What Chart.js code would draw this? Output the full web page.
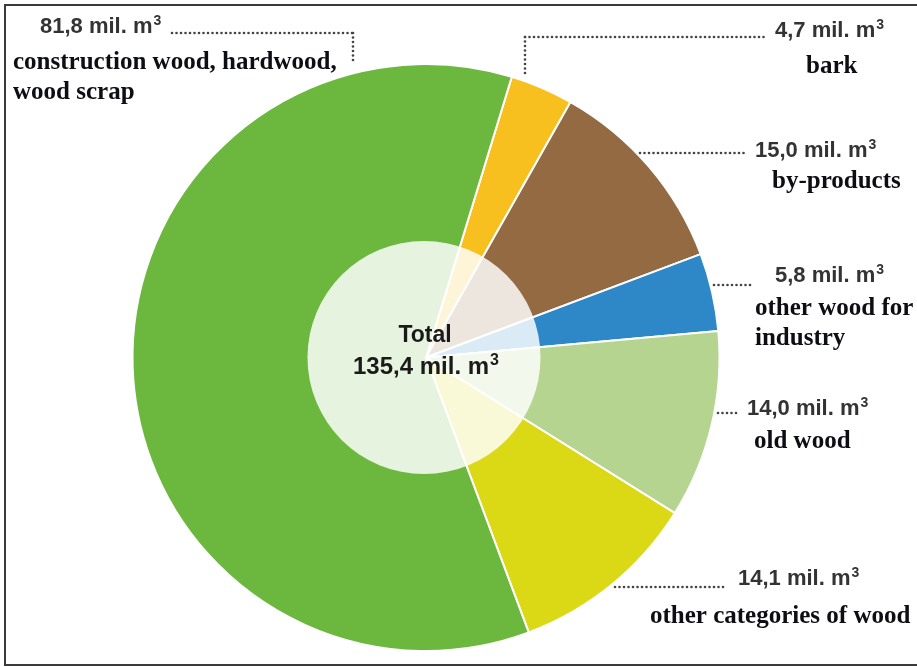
<!DOCTYPE html>
<html lang="en">
<head>
  <meta charset="UTF-8" />
  <title>Wood volumes</title>
  <script src="https://cdn.jsdelivr.net/npm/chart.js"></script>
  <style>
    body {
      margin: 0;
      background: #fff;
    }
    .wrap {
      position: relative;
      width: 917px;
      height: 667px;
      overflow: hidden;
    }
    .frame {
      position: absolute;
      left: 4px;
      top: 4px;
      width: 930px;
      height: 658px;
      border: 2px solid #3a3a3a;
      box-sizing: content-box;
      pointer-events: none;
    }
    canvas {
      position: absolute;
      left: 0;
      top: 0;
    }
  </style>
</head>
<body>
  <div class="wrap">
    <canvas id="woodChart" width="917" height="667"></canvas>
    <div class="frame"></div>
  </div>

  <script>
    // volumes in mil. m³, clockwise from the bark slice
    const categories = [
      'bark',
      'by-products',
      'other wood for industry',
      'old wood',
      'other categories of wood',
      'construction wood, hardwood, wood scrap'
    ];
    const volumes = [4.7, 15.0, 5.8, 14.0, 14.1, 81.8];
    const total = 135.4;
    const colors = ['#f7c01f', '#936a42', '#2e88c8', '#b5d48f', '#dbd815', '#6cb83f'];

    const fmt = v => v.toFixed(1).replace('.', ',') + ' mil. m';

    // where each label block sits: value line, then the name lines
    const labelLayout = [
      { x: 775, y: 37, lines: ['bark'], lx: 806, ly: [73], dots: [[525, 73, 525, 37], [525, 37, 764, 37]] },
      { x: 755, y: 157, lines: ['by-products'], lx: 772, ly: [188], dots: [[640, 153, 744, 153]] },
      { x: 775, y: 282, lines: ['other wood for', 'industry'], lx: 755, ly: [315, 345], dots: [[714, 285, 754, 285]] },
      { x: 747, y: 415, lines: ['old wood'], lx: 754, ly: [448], dots: [[718, 413, 740, 413]] },
      { x: 738, y: 585, lines: ['other categories of wood'], lx: 650, ly: [623], dots: [[615, 587, 727, 587]] },
      { x: 40, y: 33, lines: ['construction wood, hardwood,', 'wood scrap'], lx: 13, ly: [69, 99], dots: [[172, 33, 353, 33], [353, 33, 353, 64]] }
    ];

    function dotLine(ctx, x1, y1, x2, y2) {
      const len = Math.hypot(x2 - x1, y2 - y1);
      const step = 4.5;
      const n = Math.floor(len / step);
      ctx.fillStyle = '#444';
      for (let i = 0; i <= n; i++) {
        const t = n === 0 ? 0 : (i * step) / len;
        ctx.beginPath();
        ctx.arc(x1 + (x2 - x1) * t, y1 + (y2 - y1) * t, 1.3, 0, Math.PI * 2);
        ctx.fill();
      }
    }

    // "xx,x mil. m" followed by a raised 3
    function volumeText(ctx, text, x, y, size, align) {
      ctx.font = `bold ${size}px 'Liberation Sans', Arial, sans-serif`;
      const w = ctx.measureText(text).width;
      const supSize = Math.round(size * 0.65);
      ctx.font = `bold ${supSize}px 'Liberation Sans', Arial, sans-serif`;
      const sw = ctx.measureText('3').width;
      let left = align === 'center' ? x - (w + sw + 1) / 2 : x;
      ctx.textAlign = 'left';
      ctx.font = `bold ${size}px 'Liberation Sans', Arial, sans-serif`;
      ctx.fillText(text, left, y);
      ctx.font = `bold ${supSize}px 'Liberation Sans', Arial, sans-serif`;
      ctx.fillText('3', left + w + 1, y - size * 0.36);
    }

    const annotations = {
      id: 'annotations',
      afterDatasetsDraw(chart) {
        const ctx = chart.ctx;
        const arc = chart.getDatasetMeta(0).data[0];
        const cx = arc.x, cy = arc.y;
        const r = arc.outerRadius;

        // pale disc in the middle
        ctx.save();
        ctx.fillStyle = 'rgba(255,255,255,0.83)';
        ctx.beginPath();
        ctx.arc(cx - 2, cy, r * 0.397, 0, Math.PI * 2);
        ctx.fill();

        ctx.fillStyle = '#1a1a1a';
        ctx.textAlign = 'center';
        ctx.textBaseline = 'alphabetic';
        ctx.font = "bold 23px 'Liberation Sans', Arial, sans-serif";
        ctx.fillText('Total', cx - 1, cy - 16);
        volumeText(ctx, fmt(total), cx, cy + 16, 24, 'center');

        // labels with dotted leaders
        labelLayout.forEach((lab, i) => {
          lab.dots.forEach(d => dotLine(ctx, d[0], d[1], d[2], d[3]));
          ctx.fillStyle = '#333';
          volumeText(ctx, fmt(volumes[i]), lab.x, lab.y, 22, 'left');
          ctx.fillStyle = '#0d0d14';
          ctx.textAlign = 'left';
          ctx.font = "bold 25px 'Liberation Serif', 'Times New Roman', serif";
          lab.lines.forEach((t, j) => ctx.fillText(t, lab.lx, lab.ly[j]));
        });
        ctx.restore();
      }
    };

    new Chart(document.getElementById('woodChart'), {
      type: 'pie',
      data: {
        labels: categories,
        datasets: [{
          data: volumes,
          backgroundColor: colors,
          borderColor: '#ffffff',
          borderWidth: 2
        }]
      },
      options: {
        responsive: false,
        animation: false,
        rotation: 17,
        layout: { padding: { left: 131, right: 196, top: 63, bottom: 15 } },
        plugins: {
          legend: { display: false },
          tooltip: { enabled: false }
        }
      },
      plugins: [annotations]
    });
  </script>
</body>
</html>
